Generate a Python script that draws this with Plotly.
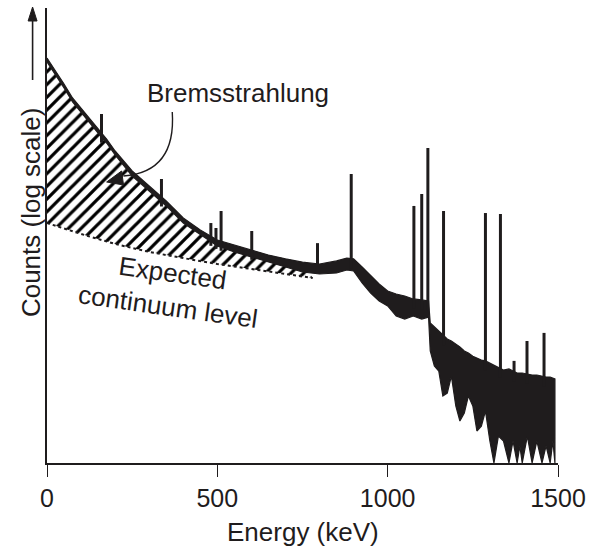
import numpy as np
import plotly.graph_objects as go

# ---------------- data ----------------
energy_keV = [0, 10, 25, 50, 75, 100, 125, 150, 175, 200,
              250, 300, 350, 400, 450, 500, 550, 600, 650, 700,
              750, 800, 850, 880, 900, 925, 950, 975, 1000, 1025,
              1050, 1075, 1100, 1120, 1125, 1137, 1150, 1162, 1175, 1187,
              1200, 1212, 1225, 1237, 1250, 1262, 1275, 1287,
              1300, 1312, 1325, 1340, 1356, 1368, 1380, 1388, 1395,
              1410, 1424, 1438, 1453, 1465, 1477, 1485, 1491]
counts_upper = [11220, 10000, 8318, 6166, 4467, 3548, 2754, 2188, 1738, 1318,
                832, 589, 417, 282, 214, 170, 151, 135, 120, 110,
                102, 97.7, 105, 112, 110, 91.2, 74.1, 61.7, 52.5, 49.0,
                46.8, 43.7, 42.7, 41.7, 25.1, 22.9, 20.9, 19.1, 17.4, 16.6,
                15.5, 14.5, 13.2, 12.6, 11.7, 11.2, 10.7, 10.5,
                10.0, 9.55, 9.12, 8.51, 8.71, 8.32, 7.94, 7.94, 7.94,
                7.76, 7.59, 7.59, 7.41, 7.24, 7.24, 7.08, 6.92]
counts_lower = [10230, 9120, 7586, 5623, 4074, 3236, 2512, 1995, 1585, 1202,
                741, 525, 372, 251, 191, 148, 129, 115, 102, 91.2,
                81.3, 77.6, 79.4, 85.1, 83.2, 63.1, 50.1, 41.7, 37.2, 29.5,
                27.5, 29.5, 27.5, 28.8, 13.2, 9.33, 8.32, 4.68, 5.01, 7.41,
                3.72, 2.63, 3.16, 4.68, 3.72, 2.09, 2.34, 3.31,
                1.66, 1.0, 1.86, 1.66, 1.0, 1.66, 1.0, 1.48, 1.0,
                1.86, 1.0, 1.66, 1.0, 1.48, 1.0, 1.66, 1.0]

peak_keV = [160, 336, 481, 496, 511, 601, 794, 893, 1077, 1100, 1118,
            1164, 1287, 1331, 1371, 1409, 1459]
peak_counts = [3090, 692, 251, 224, 331, 209, 158, 776, 372, 490, 1413,
               331, 316, 309, 10.5, 16.6, 20.0]

continuum_keV = [0, 100, 200, 300, 400, 500, 600, 700, 780]
continuum_counts = [251, 195, 155, 129, 112, 97.7, 87.1, 77.6, 70.8]

brems_end_keV = 750
x_tickvals = [0, 500, 1000, 1500]
x_ticktext = ["0", "500", "1000", "1500"]

# ---------------- figure ----------------
FONT = "Liberation Sans, Arial, Helvetica, sans-serif"
INK = "#1f1c1d"

W, H = 594, 552
L, R, T, B = 47, 33, 8, 89
PW, PH = W - L - R, H - T - B


def px(xp):
    return (xp - L) / PW


def py(yp):
    return (H - B - yp) / PH


fig = go.Figure()

# hatched bremsstrahlung region (between spectrum and expected continuum)
hx = [e for e in energy_keV if e <= brems_end_keV]
hy = [c for e, c in zip(energy_keV, counts_upper) if e <= brems_end_keV]
fig.add_trace(go.Scatter(
    x=hx + continuum_keV[::-1],
    y=hy + continuum_counts[::-1],
    mode="lines", line=dict(width=0, color="rgba(0,0,0,0)"),
    fill="toself", fillcolor="white",
    fillpattern=dict(shape="/", size=9, solidity=0.36, fgopacity=1,
                     fgcolor="black", bgcolor="white", fillmode="replace"),
    hoverinfo="skip", showlegend=False))

# expected continuum edge (dashed look)
fig.add_trace(go.Scatter(
    x=continuum_keV, y=continuum_counts, mode="lines",
    line=dict(color=INK, width=2, dash="3px,3px"),
    hoverinfo="skip", showlegend=False))

# spectrum band
fig.add_trace(go.Scatter(
    x=energy_keV + energy_keV[::-1],
    y=counts_upper + counts_lower[::-1],
    mode="lines", line=dict(color=INK, width=1.2),
    fill="toself", fillcolor=INK,
    hoverinfo="skip", showlegend=False))

# peaks
pxs, pys = [], []
for e, c in zip(peak_keV, peak_counts):
    base = 10 ** np.interp(e, energy_keV, np.log10(counts_upper))
    pxs += [e, e, None]
    pys += [c, base * 0.8, None]
fig.add_trace(go.Scatter(
    x=pxs, y=pys, mode="lines", line=dict(color=INK, width=3),
    hoverinfo="skip", showlegend=False))

# curved arrow for "Bremsstrahlung"
p0 = (px(173), py(112))
pc = (px(177), py(172))
p1 = (px(124), py(176))
shapes = [
    dict(type="path", xref="paper", yref="paper",
         path=f"M {p0[0]},{p0[1]} Q {pc[0]},{pc[1]} {p1[0]},{p1[1]}",
         line=dict(color=INK, width=1.4)),
    dict(type="path", xref="paper", yref="paper",
         path=(f"M {px(107)},{py(182)} L {px(122)},{py(171)} "
               f"L {px(124)},{py(185)} Z"),
         fillcolor=INK, line=dict(color=INK, width=1)),
    # y-axis title arrow
    dict(type="line", xref="paper", yref="paper",
         x0=px(32.5), x1=px(32.5), y0=py(80), y1=py(18),
         line=dict(color=INK, width=1.6)),
    dict(type="path", xref="paper", yref="paper",
         path=(f"M {px(32.5)},{py(7)} L {px(28)},{py(21)} "
               f"L {px(37)},{py(21)} Z"),
         fillcolor=INK, line=dict(color=INK, width=1)),
]

annotations = [
    dict(text="Bremsstrahlung", xref="paper", yref="paper",
         x=px(239), y=py(93), xanchor="center", yanchor="middle",
         showarrow=False, font=dict(family=FONT, size=26, color=INK)),
    dict(text="Expected<br>continuum level", xref="paper", yref="paper",
         x=px(171), y=py(290), xanchor="center", yanchor="middle",
         textangle=8, align="center", showarrow=False,
         font=dict(family=FONT, size=26, color=INK)),
    dict(text="Counts (log scale)", xref="paper", yref="paper",
         x=px(31), y=py(212), xanchor="center", yanchor="middle",
         textangle=-90, showarrow=False,
         font=dict(family=FONT, size=26, color=INK)),
    dict(text="Energy (keV)", xref="paper", yref="paper",
         x=px(304), y=py(532), xanchor="center", yanchor="middle",
         showarrow=False, font=dict(family=FONT, size=26, color=INK)),
]

fig.update_layout(
    width=W, height=H,
    margin=dict(l=L, r=R, t=T, b=B, pad=0),
    paper_bgcolor="white", plot_bgcolor="white",
    showlegend=False,
    shapes=shapes, annotations=annotations,
    xaxis=dict(range=[0, 1500], tickvals=x_tickvals, ticktext=x_ticktext,
               showgrid=False, zeroline=False, showline=True,
               linecolor=INK, linewidth=1.5, ticks="outside",
               ticklen=12, tickwidth=1.3, tickcolor=INK,
               tickfont=dict(family=FONT, size=25, color=INK)),
    yaxis=dict(type="log", range=[0, 4.55], showgrid=False, zeroline=False,
               showline=True, linecolor=INK, linewidth=1.5,
               showticklabels=False, ticks=""),
)

fig.write_html("out.html")
